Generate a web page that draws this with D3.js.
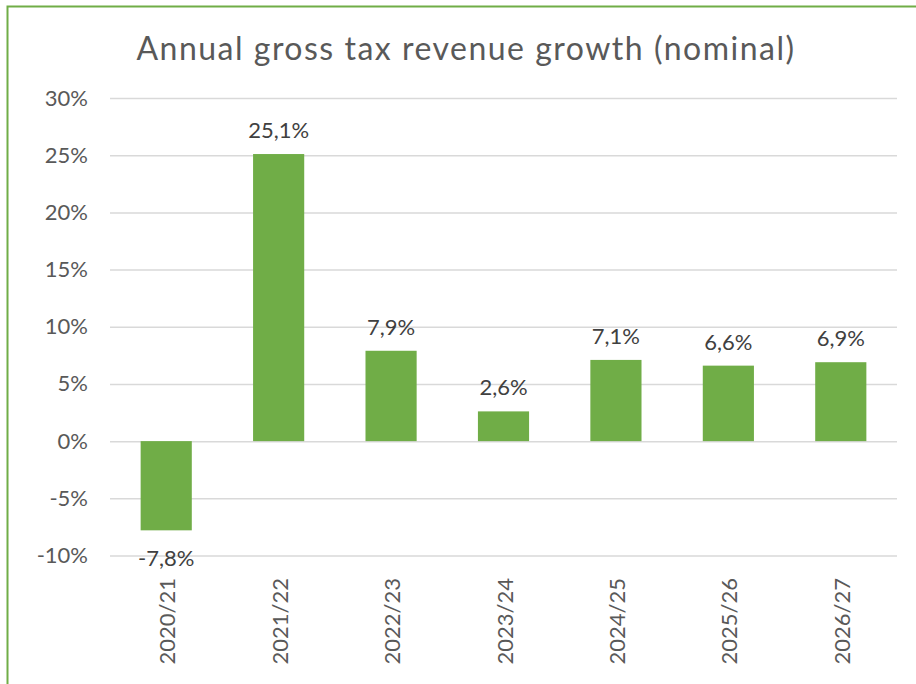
<!DOCTYPE html>
<html>
<head>
<meta charset="utf-8">
<script src="https://cdn.jsdelivr.net/npm/d3@7"></script>
<style>
  html, body { margin: 0; padding: 0; background: #fff; }
  svg { display: block; }
</style>
</head>
<body>
<svg id="chart" width="916" height="684"></svg>
<script>
// Fiscal years and annual nominal growth of gross tax revenue (%)
const years = ["2020/21", "2021/22", "2022/23", "2023/24", "2024/25", "2025/26", "2026/27"];
const growth = [-7.8, 25.1, 7.9, 2.6, 7.1, 6.6, 6.9];
const yTicks = [-10, -5, 0, 5, 10, 15, 20, 25, 30];
const titleText = "Annual gross tax revenue growth (nominal)";

const W = 916, H = 684;
const margin = { left: 110, right: 19, top: 98, bottom: 128 };
const fontFamily = "'Century Gothic', 'Lato', 'Open Sans', sans-serif";
const labelSize = 22;
const svg = d3.select("#chart");

// Frame of the chart area (left and top edges visible)
svg.append("path")
  .attr("d", `M7.5,${H} L7.5,6.5 L${W},6.5`)
  .attr("fill", "none")
  .attr("stroke", "#70ad47")
  .attr("stroke-width", 2);

const x = d3.scaleBand()
  .domain(years)
  .range([margin.left, W - margin.right])
  .paddingInner(0.545)
  .paddingOuter(0.2725);

const y = d3.scaleLinear()
  .domain([-10, 30])
  .range([H - margin.bottom - 0.5, margin.top]);

const fmt = v => (v.toFixed(1).replace(".", ",")) + "%";

// Horizontal gridlines with percentage ticks
const yAxis = d3.axisLeft(y)
  .tickValues(yTicks)
  .tickSize(-(W - margin.right - margin.left))
  .tickPadding(22)
  .tickFormat(d => d + "%");

const gy = svg.append("g")
  .attr("transform", `translate(${margin.left},0)`)
  .call(yAxis);
gy.select(".domain").remove();
gy.selectAll(".tick line")
  .attr("stroke", "#d9d9d9")
  .attr("stroke-width", 1.5);
gy.selectAll(".tick text")
  .attr("fill", "#595959")
  .attr("font-family", fontFamily)
  .attr("font-size", labelSize);

const rows = years.map((yr, i) => ({ yr, v: growth[i] }));

// Bars
svg.append("g").selectAll("rect")
  .data(rows)
  .join("rect")
  .attr("x", d => x(d.yr))
  .attr("width", x.bandwidth())
  .attr("y", d => y(Math.max(0, d.v)))
  .attr("height", d => Math.abs(y(d.v) - y(0)))
  .attr("fill", "#70ad47");

// Value labels
svg.append("g").selectAll("text")
  .data(rows)
  .join("text")
  .attr("x", d => x(d.yr) + x.bandwidth() / 2)
  .attr("y", d => d.v >= 0 ? y(d.v) - 16 : y(d.v) + 36)
  .attr("text-anchor", "middle")
  .attr("fill", "#404040")
  .attr("font-family", fontFamily)
  .attr("font-size", labelSize)
  .text(d => fmt(d.v));

// Category labels, rotated
const xAxis = d3.axisBottom(x).tickSize(0).tickPadding(0);
const gx = svg.append("g")
  .attr("transform", `translate(0,${H - margin.bottom})`)
  .call(xAxis);
gx.select(".domain").remove();
gx.selectAll(".tick text")
  .attr("transform", "translate(9,22) rotate(-90)")
  .attr("text-anchor", "end")
  .attr("dy", "0")
  .attr("x", 0)
  .attr("y", 0)
  .attr("fill", "#595959")
  .attr("font-family", fontFamily)
  .attr("font-size", labelSize);

// Title
svg.append("text")
  .attr("x", 466)
  .attr("y", 60)
  .attr("text-anchor", "middle")
  .attr("fill", "#595959")
  .attr("font-family", fontFamily)
  .attr("font-size", 32)
  .attr("letter-spacing", 1.5)
  .text(titleText);
</script>
</body>
</html>
